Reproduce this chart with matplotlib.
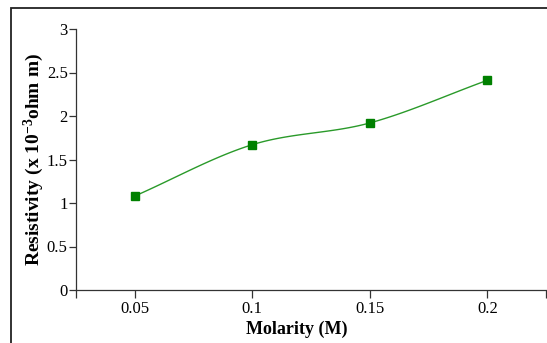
import matplotlib
matplotlib.use('Agg')
import matplotlib.pyplot as plt
from matplotlib.patches import Rectangle
import numpy as np

molarity = [0.05, 0.1, 0.15, 0.2]
resistivity = [1.08, 1.67, 1.92, 2.41]
x_ticks = [0.05, 0.1, 0.15, 0.2]
x_tick_labels = ['0.05', '0.1', '0.15', '0.2']
y_ticks = [0, 0.5, 1, 1.5, 2, 2.5, 3]
y_tick_labels = ['0', '0.5', '1', '1.5', '2', '2.5', '3']

plt.rcParams['font.family'] = 'Liberation Serif'
plt.rcParams['mathtext.fontset'] = 'custom'
plt.rcParams['mathtext.rm'] = 'Liberation Serif'
plt.rcParams['mathtext.bf'] = 'Liberation Serif:bold'


def smooth_curve(xs, ys, steps=40):
    """Catmull-Rom style smoothing between consecutive points."""
    xs = np.asarray(xs, dtype=float)
    ys = np.asarray(ys, dtype=float)
    n = len(xs)
    # tangents
    mx = np.gradient(xs)
    my = np.gradient(ys)
    out_x, out_y = [], []
    for i in range(n - 1):
        t = np.linspace(0, 1, steps)
        h00 = 2 * t**3 - 3 * t**2 + 1
        h10 = t**3 - 2 * t**2 + t
        h01 = -2 * t**3 + 3 * t**2
        h11 = t**3 - t**2
        out_x.extend(h00 * xs[i] + h10 * mx[i] + h01 * xs[i + 1] + h11 * mx[i + 1])
        out_y.extend(h00 * ys[i] + h10 * my[i] + h01 * ys[i + 1] + h11 * my[i + 1])
    return out_x, out_y


fig = plt.figure(figsize=(5.47, 3.43), dpi=100)
ax = fig.add_axes([76 / 547, 53 / 343, 470 / 547, 261 / 343])

# outer frame, open to the right and bottom
fig.patches.append(Rectangle((11 / 547, -0.1), 1.2, 1.078,
                             transform=fig.transFigure, fill=False,
                             edgecolor='#222222', linewidth=1.3))

sx, sy = smooth_curve(molarity, resistivity)
ax.plot(sx, sy, color='#2a9a2a', linewidth=1.0)
ax.plot(molarity, resistivity, linestyle='none', marker='s',
        markersize=6, color='#008000')

ax.set_xlim(0.025, 0.225)
ax.set_ylim(0, 3)
ax.set_xticks(x_ticks)
ax.set_xticklabels(x_tick_labels)
ax.set_xticks([0.025, 0.225], minor=True)
ax.set_yticks(y_ticks)
ax.set_yticklabels(y_tick_labels)

ax.tick_params(axis='x', which='both', direction='out', length=6,
               width=0.9, color='#333333', labelsize=12, pad=2)
ax.tick_params(axis='y', direction='out', length=5, width=0.9,
               color='#333333', labelsize=12, pad=1)

for side in ['top', 'right']:
    ax.spines[side].set_visible(False)
for side in ['left', 'bottom']:
    ax.spines[side].set_linewidth(0.9)
    ax.spines[side].set_color('#333333')

ax.set_xlabel('Molarity (M)', fontsize=13, fontweight='bold')
ax.xaxis.set_label_coords(0.470, -0.149)
ax.xaxis.label.set_va('center')
ax.set_ylabel(r'Resistivity (x 10$\mathbf{^{-3}}$ohm m)', fontsize=14,
              fontweight='bold')
ax.yaxis.set_label_coords(-0.089, 0.5)
ax.yaxis.label.set_va('center')

fig.savefig('out.png', dpi=100)
